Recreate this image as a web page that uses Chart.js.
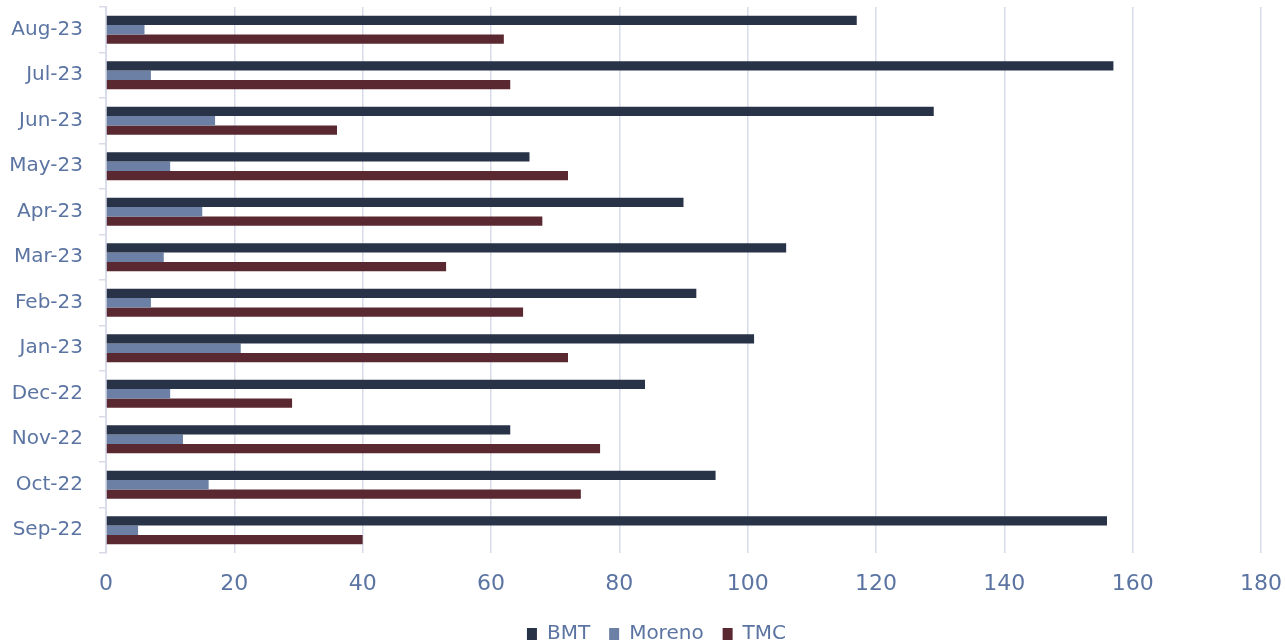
<!DOCTYPE html>
<html>
<head>
<meta charset="utf-8">
<title>BMT, Moreno, TMC by month</title>
<script src="https://cdn.jsdelivr.net/npm/chart.js@4/dist/chart.umd.min.js"></script>
<style>
  html, body { margin: 0; padding: 0; background: #ffffff; overflow: hidden; }
  canvas { display: block; }
</style>
</head>
<body>
<canvas id="chart" width="1285" height="654"></canvas>
<script>
// Monthly counts, oldest first (Sep-22 is drawn at the bottom)
const months = ['Sep-22', 'Oct-22', 'Nov-22', 'Dec-22', 'Jan-23', 'Feb-23',
                'Mar-23', 'Apr-23', 'May-23', 'Jun-23', 'Jul-23', 'Aug-23'];
const bmt    = [156, 95, 63, 84, 101, 92, 106, 90, 66, 129, 157, 117];
const moreno = [5, 16, 12, 10, 21, 7, 9, 15, 10, 17, 7, 6];
const tmc    = [40, 74, 77, 29, 72, 65, 53, 68, 72, 36, 63, 62];
const xTicks = [0, 20, 40, 60, 80, 100, 120, 140, 160, 180];

const TEXT = '#5b74a2';
const GRID = '#d8dce9';
const FONT = '"DejaVu Sans", sans-serif';

// Nudges the legend row sideways so it sits centred under the bars
const legendShift = {
  id: 'legendShift',
  beforeDraw(chart, args, opts) {
    const lg = chart.legend;
    if (lg && !lg._shifted) {
      lg.left += opts.dx;
      lg.right += opts.dx;
      lg._shifted = true;
    }
  }
};

new Chart(document.getElementById('chart'), {
  type: 'bar',
  data: {
    labels: months,
    datasets: [
      { label: 'BMT',    data: bmt,    backgroundColor: '#283347' },
      { label: 'Moreno', data: moreno, backgroundColor: '#6c80a6' },
      { label: 'TMC',    data: tmc,    backgroundColor: '#5a2830' }
    ]
  },
  plugins: [legendShift],
  options: {
    indexAxis: 'y',
    responsive: false,
    animation: false,
    devicePixelRatio: 1,
    categoryPercentage: 0.62,
    barPercentage: 1.0,
    layout: { padding: { top: 7, right: 24, left: 0, bottom: 0 } },
    scales: {
      x: {
        min: 0,
        max: 180,
        afterBuildTicks: (scale) => { scale.ticks = xTicks.map(v => ({ value: v })); },
        afterFit: (scale) => {
          scale.height = 52;
          scale.paddingLeft = 0;
          scale.paddingRight = 0;
        },
        grid: { color: GRID, lineWidth: 1.5, drawTicks: false },
        border: { display: false },
        ticks: { color: TEXT, padding: 18, font: { family: FONT, size: 22 } }
      },
      y: {
        reverse: true,
        afterFit: (scale) => {
          scale.width = 106;
          scale.paddingTop = 0;
          scale.paddingBottom = 0;
        },
        grid: { color: GRID, lineWidth: 1.5, drawOnChartArea: false, drawTicks: true, tickLength: 7, offset: true },
        border: { display: true, color: GRID, width: 2 },
        ticks: { color: TEXT, padding: 16, font: { family: FONT, size: 20 } }
      }
    },
    plugins: {
      legendShift: { dx: 26 },
      legend: {
        position: 'bottom',
        labels: {
          color: TEXT,
          boxWidth: 10,
          boxHeight: 12,
          padding: 19,
          font: { family: FONT, size: 20 }
        }
      },
      tooltip: { enabled: false }
    }
  }
});
</script>
</body>
</html>
